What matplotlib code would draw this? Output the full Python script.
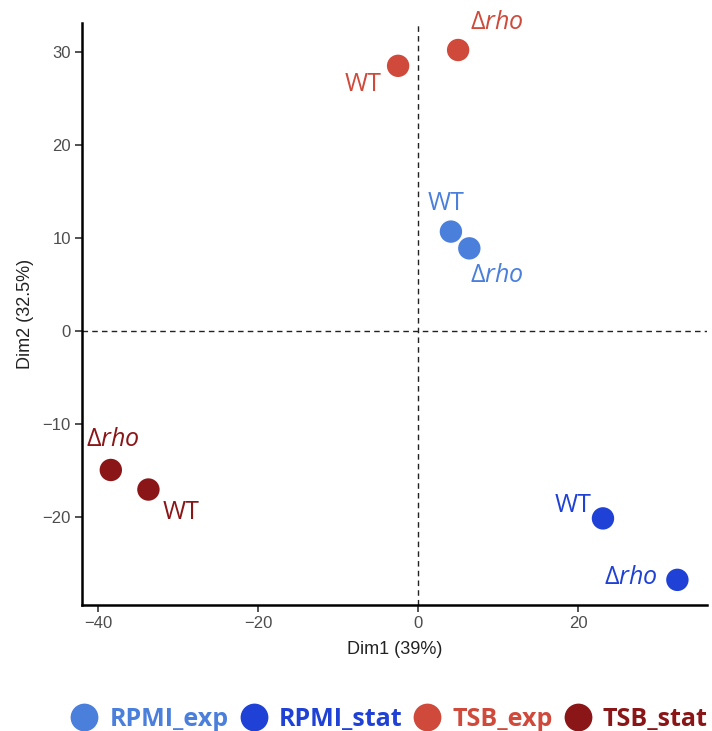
import matplotlib
matplotlib.use("Agg")
import matplotlib.pyplot as plt
from matplotlib.lines import Line2D

# PCA coordinates per sample
groups = ["RPMI_exp", "RPMI_exp", "RPMI_stat", "RPMI_stat",
          "TSB_exp", "TSB_exp", "TSB_stat", "TSB_stat"]
strains = ["WT", "rho", "WT", "rho", "WT", "rho", "WT", "rho"]
dim1 = [4.1, 6.4, 23.1, 32.4, -2.5, 5.0, -33.7, -38.4]
dim2 = [10.7, 8.9, -20.1, -26.7, 28.5, 30.2, -17.0, -14.9]

group_order = ["RPMI_exp", "RPMI_stat", "TSB_exp", "TSB_stat"]
colors = {"RPMI_exp": "#4A7FDC", "RPMI_stat": "#1F41D6",
          "TSB_exp": "#D04A3C", "TSB_stat": "#8A1618"}

# label offsets in pixels (dx, dy) for each sample
label_offsets = [(-5, 28), (28, -27), (-30, 13), (-47, 2),
                 (-35, -19), (39, 28), (33, -23), (2, 30)]

plt.rcParams["mathtext.fontset"] = "custom"
plt.rcParams["mathtext.rm"] = "Open Sans"
plt.rcParams["mathtext.it"] = "Open Sans:italic"

fig = plt.figure(figsize=(7.12, 7.31), dpi=100)
ax = fig.add_axes([82 / 712, 126 / 731, 625 / 712, 582 / 731])

ax.axhline(0, color="#222222", lw=1.0, ls=(0, (4, 3)), zorder=1)
ax.axvline(0, color="#222222", lw=1.0, ls=(0, (4, 3)), zorder=1)

for x, y, g, s, off in zip(dim1, dim2, groups, strains, label_offsets):
    ax.scatter(x, y, s=260, color=colors[g], edgecolors="none", zorder=3)
    txt = "WT" if s == "WT" else r"$\Delta\mathit{rho}$"
    ax.annotate(txt, (x, y), xytext=off, textcoords="offset pixels",
                ha="center", va="center", color=colors[g],
                fontsize=18, family="Open Sans", zorder=4)

ax.set_xlim(-42.0, 36.1)
ax.set_ylim(-29.4, 33.1)
ax.set_xticks([-40, -20, 0, 20])
ax.set_yticks([-20, -10, 0, 10, 20, 30])
ax.set_xticklabels(["\u221240", "\u221220", "0", "20"])
ax.set_yticklabels(["\u221220", "\u221210", "0", "10", "20", "30"])

for side in ["top", "right"]:
    ax.spines[side].set_visible(False)
for side in ["left", "bottom"]:
    ax.spines[side].set_linewidth(1.8)
    ax.spines[side].set_color("black")
ax.tick_params(length=5, width=1.2, color="#333333", labelcolor="#4D4D4D",
               labelsize=12, pad=3)
for lab in ax.get_xticklabels() + ax.get_yticklabels():
    lab.set_family("Liberation Sans")

ax.set_xlabel("Dim1 (39%)", fontsize=13, family="Liberation Sans",
              color="#222222", labelpad=7)
ax.set_ylabel("Dim2 (32.5%)", fontsize=13, family="Liberation Sans",
              color="#222222", labelpad=6)

handles = [Line2D([], [], marker="o", ls="none", markersize=20,
                  markerfacecolor=colors[g], markeredgecolor="none")
           for g in group_order]
leg = fig.legend(handles, group_order, loc="center", ncol=4,
                 bbox_to_anchor=(389 / 712, 12 / 731), frameon=False,
                 handletextpad=0.45, columnspacing=0.45, handlelength=1.1,
                 prop={"family": "Open Sans", "weight": "bold", "size": 18})
for t, g in zip(leg.get_texts(), group_order):
    t.set_color(colors[g])

fig.savefig("out.png", dpi=100)
